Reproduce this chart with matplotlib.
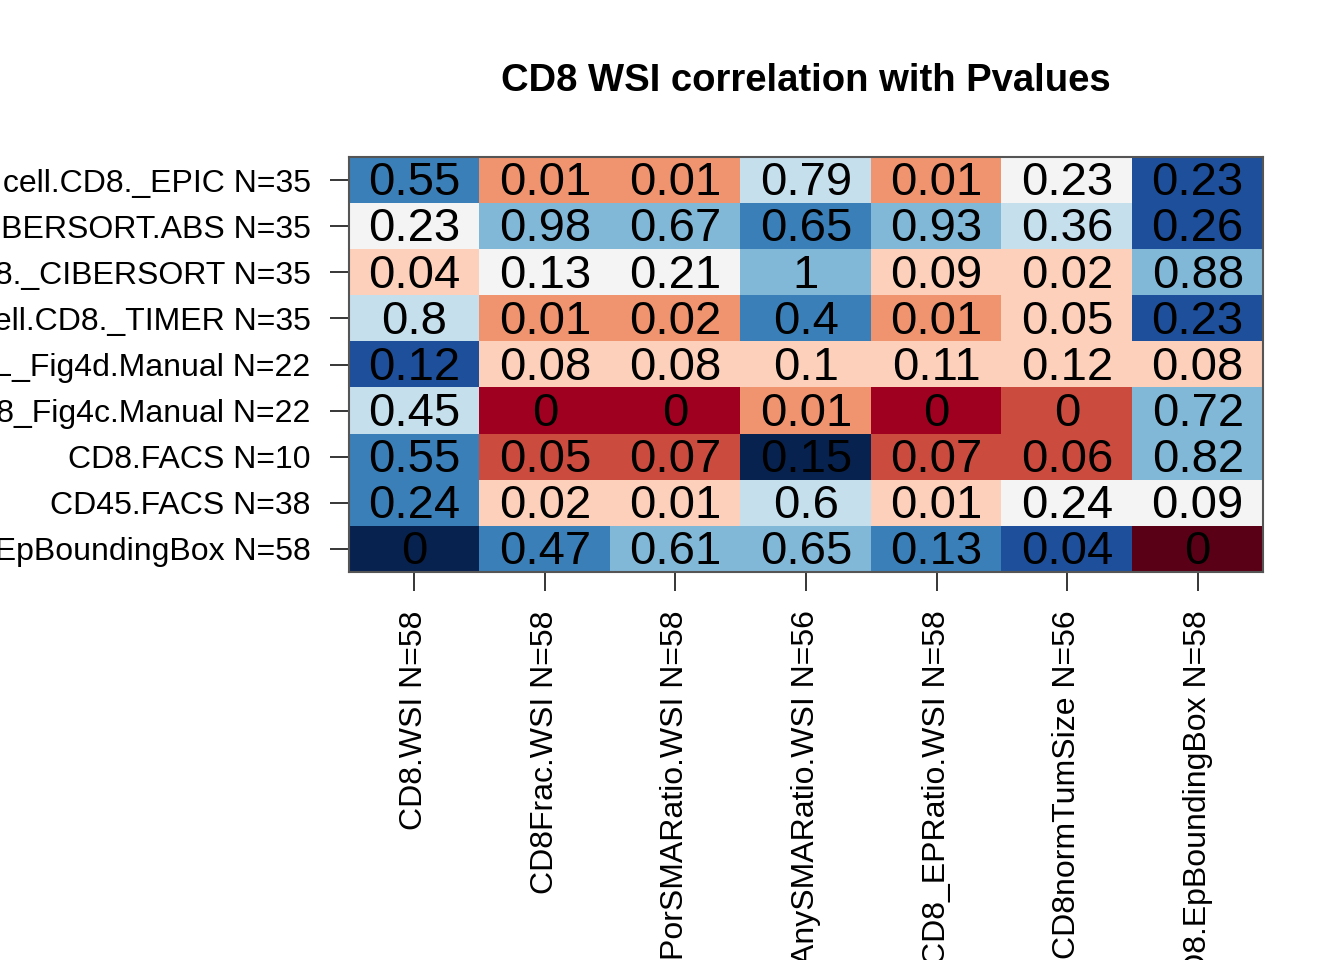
import matplotlib
import numpy as np

matplotlib.use("Agg")
import matplotlib.pyplot as plt
from matplotlib.colors import BoundaryNorm, ListedColormap

plt.rcParams["font.family"] = ["Liberation Sans", "DejaVu Sans"]

TITLE = "CD8 WSI correlation with Pvalues"

ROW_LABELS = [
    "T.cell.CD8._EPIC N=35",
    "T.cell.CD8._CIBERSORT.ABS N=35",
    "T.cell.CD8._CIBERSORT N=35",
    "T.cell.CD8._TIMER N=35",
    "CD8_TIL_Fig4d.Manual N=22",
    "CD8_Fig4c.Manual N=22",
    "CD8.FACS N=10",
    "CD45.FACS N=38",
    "CD8.EpBoundingBox N=58",
]

COL_LABELS = [
    "CD8.WSI N=58",
    "CD8Frac.WSI N=58",
    "CD8PorSMARatio.WSI N=58",
    "CD8AnySMARatio.WSI N=56",
    "CD8_EPRatio.WSI N=58",
    "CD8normTumSize N=56",
    "CD8.EpBoundingBox N=58",
]

# correlation estimates
CORR = [
    [-0.55, 0.38, 0.37, -0.17, 0.39, 0.02, -0.71],
    [0.03, -0.36, -0.38, -0.52, -0.35, -0.19, -0.70],
    [0.18, 0.05, 0.04, -0.37, 0.16, 0.21, -0.36],
    [-0.17, 0.40, 0.37, -0.54, 0.41, 0.19, -0.72],
    [-0.68, 0.20, 0.19, 0.17, 0.18, 0.16, 0.21],
    [-0.20, 0.70, 0.69, 0.42, 0.72, 0.60, -0.38],
    [-0.53, 0.58, 0.56, -0.86, 0.57, 0.59, -0.33],
    [-0.50, 0.19, 0.22, -0.16, 0.20, 0.01, -0.02],
    [-0.88, -0.52, -0.40, -0.38, -0.50, -0.70, 0.90],
]

# p-values printed in the cells
PVAL = [
    [0.55, 0.01, 0.01, 0.79, 0.01, 0.23, 0.23],
    [0.23, 0.98, 0.67, 0.65, 0.93, 0.36, 0.26],
    [0.04, 0.13, 0.21, 1, 0.09, 0.02, 0.88],
    [0.8, 0.01, 0.02, 0.4, 0.01, 0.05, 0.23],
    [0.12, 0.08, 0.08, 0.1, 0.11, 0.12, 0.08],
    [0.45, 0, 0, 0.01, 0, 0, 0.72],
    [0.55, 0.05, 0.07, 0.15, 0.07, 0.06, 0.82],
    [0.24, 0.02, 0.01, 0.6, 0.01, 0.24, 0.09],
    [0, 0.47, 0.61, 0.65, 0.13, 0.04, 0],
]

# blue -> white -> red, 11 steps
PALETTE = [
    "#08224F", "#1D4F9B", "#3A7FB8", "#82B8D7", "#C6DFED", "#F4F4F4",
    "#FCD0BA", "#F0936F", "#CB4B3F", "#A0001F", "#5A0016",
]


def main() -> None:
    corr = np.array(CORR)
    n_rows, n_cols = corr.shape

    cmap = ListedColormap(PALETTE)
    norm = BoundaryNorm(np.linspace(-1, 1, len(PALETTE) + 1), cmap.N)

    fig = plt.figure(figsize=(13.44, 9.6), dpi=100)
    ax = fig.add_axes([349 / 1344, 1 - 572 / 960, 914 / 1344, 415 / 960])

    ax.imshow(corr, cmap=cmap, norm=norm, aspect="auto",
              interpolation="nearest")

    for i in range(n_rows):
        for j in range(n_cols):
            ax.text(j, i + 0.07, f"{PVAL[i][j]:g}", ha="center", va="center",
                    fontsize=34, color="black")

    ax.set_xticks(range(n_cols))
    ax.set_xticklabels(COL_LABELS, rotation=90, fontsize=23, va="top")
    ax.set_yticks(range(n_rows))
    ax.set_yticklabels(ROW_LABELS, fontsize=23)
    ax.tick_params(length=13.7, width=1.1, pad=14, top=False, right=False)

    for spine in ax.spines.values():
        spine.set_color("#555555")
        spine.set_linewidth(1.5)

    fig.text(806 / 1344, 1 - 81 / 960, TITLE, ha="center", va="center",
             fontsize=27.5, fontweight="bold")

    fig.savefig("out.png", dpi=100)


if __name__ == "__main__":
    main()
